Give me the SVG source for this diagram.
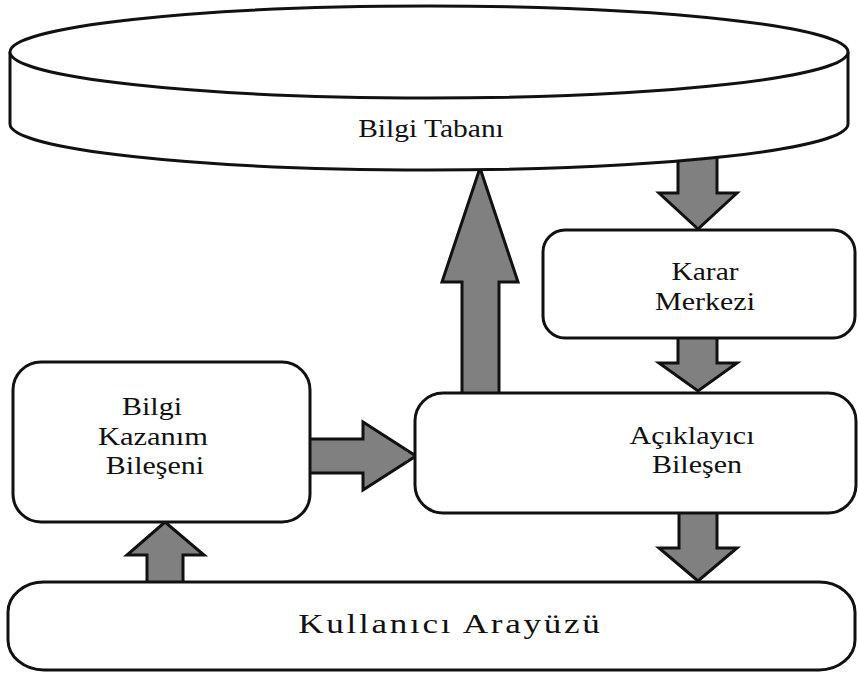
<svg xmlns="http://www.w3.org/2000/svg" width="858" height="675" viewBox="0 0 858 675">
  <style>
    .box { fill: #ffffff; stroke: #111111; stroke-width: 3; }
    .arrow { fill: #808080; stroke: #111111; stroke-width: 3; stroke-linejoin: miter; }
    .lbl { font-family: "Liberation Serif", "Times New Roman", serif; font-size: 25px; fill: #111111; text-anchor: middle; }
    .big { font-size: 27px; }
  </style>
  <rect width="858" height="675" fill="#ffffff"/>

  <!-- block arrows between components -->
  <g id="connectors">
    <polygon class="arrow" points="678,150 717,150 717,193 737,193 698,229 659,193 678,193"/>
    <polygon class="arrow" points="678,330 717,330 717,363 737,363 698,391 659,363 678,363"/>
    <polygon class="arrow" points="679,505 717,505 717,548 737,548 698,581 659,548 679,548"/>
    <polygon class="arrow" points="462,400 499,400 499,282 518,282 480,168 442,282 462,282"/>
    <polygon class="arrow" points="300,439 363,439 363,422 416,456 363,490 363,473 300,473"/>
    <polygon class="arrow" points="147,590 183,590 183,555 204,555 165,522 127,555 147,555"/>
  </g>

  <!-- knowledge base drawn as a flat cylinder -->
  <g id="bilgi-tabani">
    <path class="box" d="M10,52 L10,124 A419,46 0 0 0 848,124 L848,52"/>
    <ellipse class="box" cx="429" cy="52" rx="419" ry="46"/>
    <text class="lbl" transform="translate(431,137) scale(1.18,1)">Bilgi Tabanı</text>
  </g>

  <g id="karar-merkezi">
    <rect class="box" x="543" y="230" width="312" height="108" rx="22" ry="22"/>
    <text class="lbl" transform="translate(705,280) scale(1.18,1)">Karar</text>
    <text class="lbl" transform="translate(705,310) scale(1.2,1)">Merkezi</text>
  </g>

  <g id="aciklayici-bilesen">
    <rect class="box" x="415" y="393" width="441" height="120" rx="28" ry="28"/>
    <text class="lbl" transform="translate(692,444) scale(1.2,1)">Açıklayıcı</text>
    <text class="lbl" transform="translate(697,473) scale(1.2,1)">Bileşen</text>
  </g>

  <g id="bilgi-kazanim-bileseni">
    <rect class="box" x="13" y="362" width="297" height="160" rx="28" ry="28"/>
    <text class="lbl" transform="translate(152,415) scale(1.2,1)">Bilgi</text>
    <text class="lbl" transform="translate(153,445) scale(1.22,1)">Kazanım</text>
    <text class="lbl" transform="translate(155,474) scale(1.2,1)">Bileşeni</text>
  </g>

  <g id="kullanici-arayuzu">
    <rect class="box" x="8" y="582" width="847" height="88" rx="36" ry="30"/>
    <text class="lbl big" transform="translate(449,633) scale(1.3,1)" textLength="232" lengthAdjust="spacing">Kullanıcı Arayüzü</text>
  </g>
</svg>
